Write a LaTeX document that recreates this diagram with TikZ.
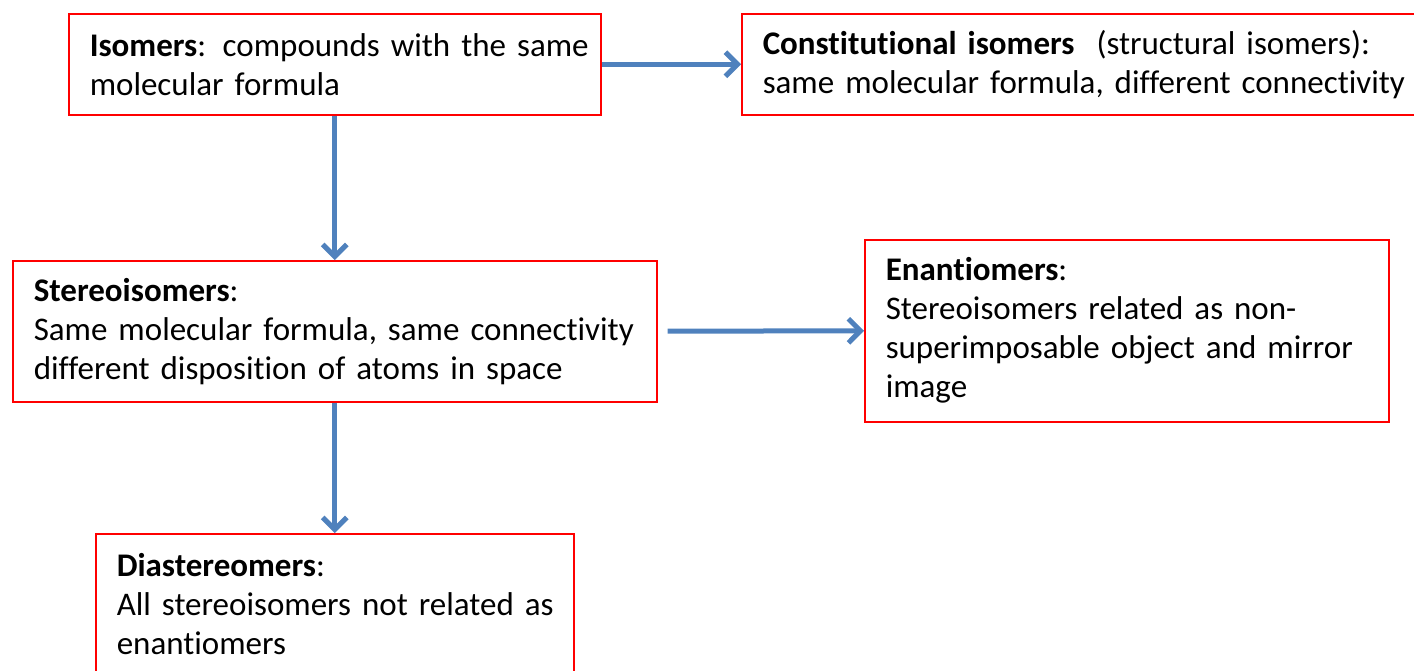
\documentclass[tikz,border=0pt]{standalone}
\usepackage{fontspec}
\setmainfont{Carlito}[Ligatures=CommonOff]
\usetikzlibrary{arrows.meta}
\definecolor{arrblue}{HTML}{4F81BD}
\tikzset{
  box/.style={draw=red, line width=1.5pt, fill=white, anchor=north west,
    inner xsep=21pt, inner ysep=0pt, align=left,
    font=\fontsize{33}{39}\selectfont},
  arr/.style={draw=arrblue, line width=5pt,
    -{Straight Barb[length=12pt,width=24pt,line width=5pt]}}
}
\begin{document}
\begin{tikzpicture}[x=1pt,y=-1pt]
\useasboundingbox (0,0) rectangle (1414,670);
\clip (0,0) rectangle (1414,670);
\node[box, text width=490pt, minimum height=101pt] (iso) at (68,13)
  {\mbox{\textbf{Isomers}: compounds with the same}\\\mbox{molecular formula}};
\node[box, text width=637pt, minimum height=101pt] (const) at (741,13)
  {\mbox{\textbf{Constitutional isomers}\ \ (structural isomers):}\\\mbox{same molecular formula, different connectivity}};
\node[box, text width=602pt, minimum height=141pt] (stereo) at (12,260)
  {\mbox{\textbf{Stereoisomers}:}\\\mbox{Same molecular formula, same connectivity}\\\mbox{different disposition of atoms in space}};
\node[box, text width=482pt, minimum height=182pt] (enant) at (864,239)
  {\mbox{\textbf{Enantiomers}:}\\\mbox{Stereoisomers related as non-}\\\mbox{superimposable object and mirror}\\\mbox{image}};
\node[box, text width=436pt, minimum height=140pt] (dia) at (95,533)
  {\mbox{\textbf{Diastereomers}:}\\\mbox{All stereoisomers not related as}\\\mbox{enantiomers}};
\draw[arr] (iso.east) -- (const.west);
\draw[arr] (iso.south) -- (stereo.north);
\draw[arr, shorten <=10pt] (stereo.east) -- (enant.west);
\draw[arr] (stereo.south) -- (dia.north);
\end{tikzpicture}
\end{document}
